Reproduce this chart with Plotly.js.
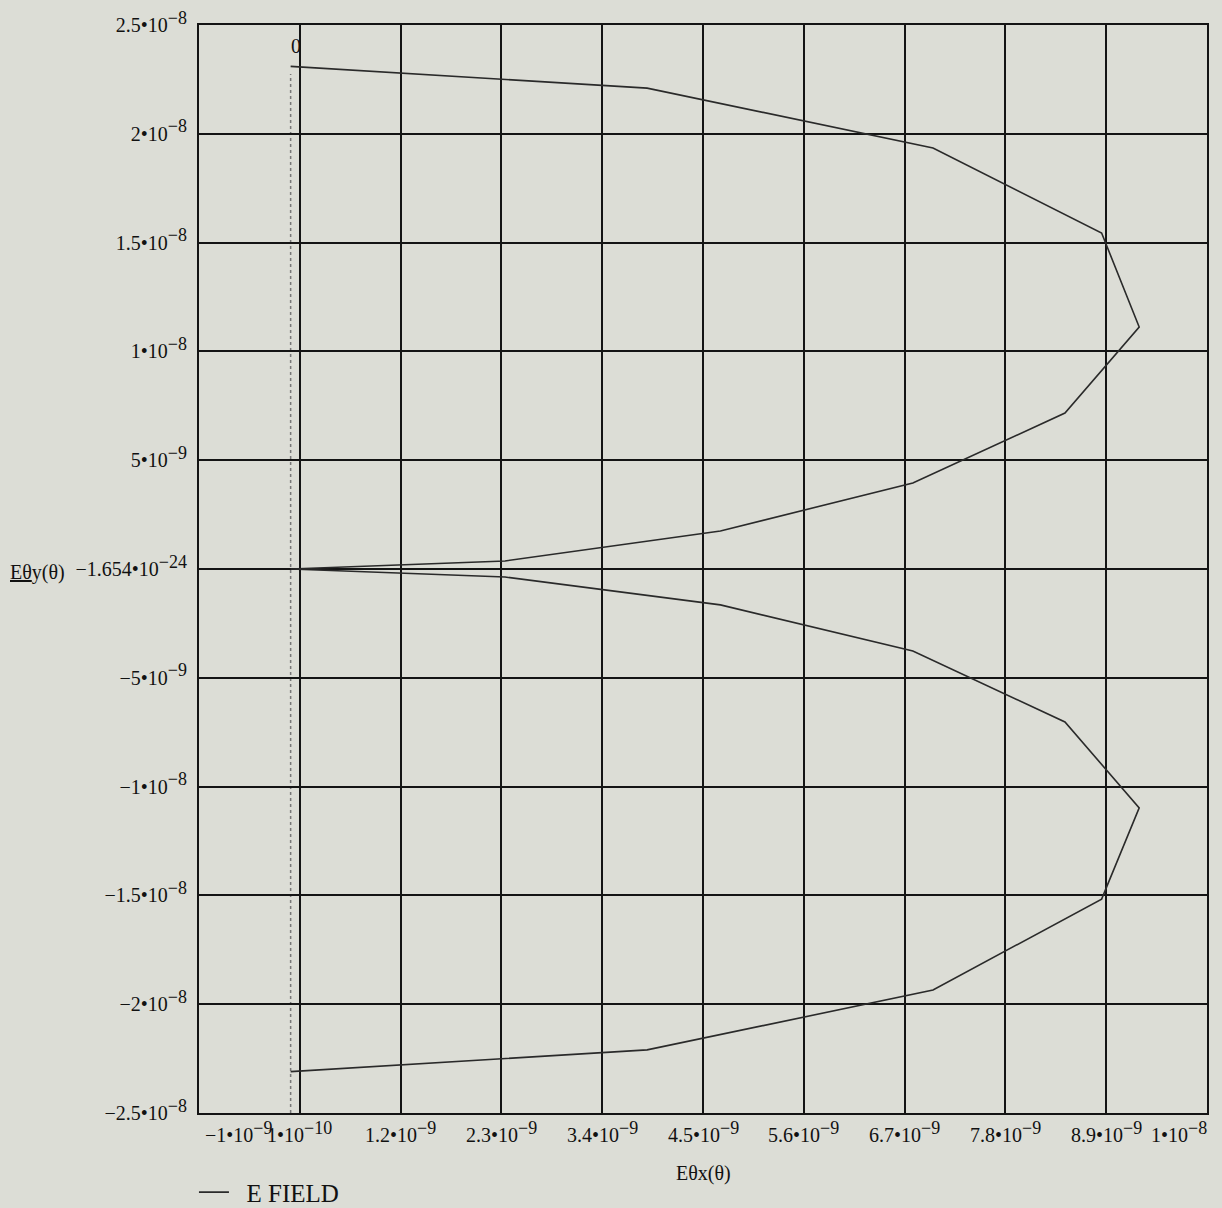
<!DOCTYPE html>
<html>
<head>
<meta charset="utf-8">
<script src="https://cdn.plot.ly/plotly-3.0.1.min.js"></script>
<style>
  html, body { margin: 0; padding: 0; background: #dcddd6; }
  #chart { width: 1222px; height: 1208px; }
</style>
</head>
<body>
<div id="chart"></div>
<script>
// E field pattern: x = Eθx(θ), y = Eθy(θ)
const exValues = [0, 3.89e-9, 7.01e-9, 8.85e-9, 9.26e-9, 8.45e-9, 6.79e-9, 4.69e-9, 2.34e-9, 0,
                  2.34e-9, 4.69e-9, 6.79e-9, 8.45e-9, 9.26e-9, 8.85e-9, 7.01e-9, 3.89e-9, 0];
const eyValues = [2.31e-8, 2.21e-8, 1.935e-8, 1.544e-8, 1.112e-8, 7.17e-9, 3.95e-9, 1.75e-9, 3.7e-10, 0,
                  -3.7e-10, -1.65e-9, -3.77e-9, -7.03e-9, -1.098e-8, -1.517e-8, -1.935e-8, -2.21e-8, -2.31e-8];
const seriesName = "E FIELD";

// Axis ticks (Mathcad style labels)
const xTickVals = [-1e-9, 1e-10, 1.2e-9, 2.3e-9, 3.4e-9, 4.5e-9, 5.6e-9, 6.7e-9, 7.8e-9, 8.9e-9, 1e-8];
const xTickMant = ["−1", "1", "1.2", "2.3", "3.4", "4.5", "5.6", "6.7", "7.8", "8.9", "1"];
const xTickExp  = ["−9", "−10", "−9", "−9", "−9", "−9", "−9", "−9", "−9", "−9", "−8"];
const yTickVals = [2.5e-8, 2e-8, 1.5e-8, 1e-8, 5e-9, 0, -5e-9, -1e-8, -1.5e-8, -2e-8, -2.5e-8];
const yTickMant = ["2.5", "2", "1.5", "1", "5", "−1.654", "−5", "−1", "−1.5", "−2", "−2.5"];
const yTickExp  = ["−8", "−8", "−8", "−8", "−9", "−24", "−9", "−8", "−8", "−8", "−8"];
const xRange = [-1e-9, 1e-8];
const yRange = [-2.5e-8, 2.5e-8];
const zeroMarker = 0;

const FONT = "'Liberation Serif', 'Times New Roman', serif";
const BG = "#dcddd6";

function sci(m, e) {
  return m + "•10<sup><span style=\"font-size:18px\">" + e + "</span></sup>";
}

const yTickText = yTickVals.map((v, i) => sci(yTickMant[i], yTickExp[i]));

const annotations = [];
xTickVals.forEach((v, i) => {
  let anchor = "center", shift = 0;
  if (i === 0) { anchor = "left"; shift = 4; }
  if (i === xTickVals.length - 1) { anchor = "right"; shift = 2; }
  annotations.push({
    x: v, xref: "x", y: 0, yref: "paper",
    xanchor: anchor, yanchor: "top", xshift: shift, yshift: -3,
    text: sci(xTickMant[i], xTickExp[i]), showarrow: false,
    font: { family: FONT, size: 20, color: "#111" }
  });
});
// axis titles
annotations.push({
  x: 0.5, xref: "paper", y: 0, yref: "paper", xanchor: "center", yanchor: "top", yshift: -47,
  text: "Eθx(θ)", showarrow: false, font: { family: FONT, size: 20, color: "#111" }
});
annotations.push({
  x: -0.1895, xref: "paper", y: 0.5, yref: "paper", xanchor: "left", yanchor: "middle", yshift: -3,
  text: "<u>Eθ</u>y(θ)", showarrow: false, font: { family: FONT, size: 20, color: "#111" }
});
// zero marker label
annotations.push({
  x: zeroMarker, xref: "x", y: 1, yref: "paper", xanchor: "left", yanchor: "top", xshift: -2, yshift: -8,
  text: "0", showarrow: false, font: { family: FONT, size: 20, color: "#111" }
});

const trace = {
  x: exValues, y: eyValues, type: "scatter", mode: "lines", name: "\u2002" + seriesName,
  line: { color: "#2a2a2a", width: 1.6 }, showlegend: true
};

const layout = {
  width: 1222, height: 1208,
  margin: { l: 199, r: 15, t: 25, b: 95, autoexpand: false },
  paper_bgcolor: BG, plot_bgcolor: BG,
  font: { family: FONT, size: 20, color: "#111" },
  xaxis: {
    range: xRange, tickmode: "array", tickvals: xTickVals, showticklabels: false,
    showgrid: true, gridcolor: "#141414", gridwidth: 2,
    showline: true, mirror: true, linecolor: "#141414", linewidth: 2,
    zeroline: false, ticks: ""
  },
  yaxis: {
    range: yRange, tickmode: "array", tickvals: yTickVals, ticktext: yTickText,
    showgrid: true, gridcolor: "#141414", gridwidth: 2,
    showline: true, mirror: true, linecolor: "#141414", linewidth: 2,
    zeroline: false, ticks: "", ticklabelstandoff: 6,
    tickfont: { family: FONT, size: 20, color: "#111" }
  },
  shapes: [{
    type: "line", xref: "x", yref: "paper", x0: zeroMarker, x1: zeroMarker, y0: 0, y1: 0.955,
    line: { color: "#777", width: 1.5, dash: "dot" }, layer: "below"
  }],
  showlegend: true,
  legend: {
    x: -0.005, xanchor: "left", y: -0.073, yanchor: "middle", orientation: "h",
    bgcolor: "rgba(0,0,0,0)", font: { family: FONT, size: 25, color: "#111" },
    itemwidth: 30
  },
  annotations: annotations
};

Plotly.newPlot("chart", [trace], layout, { displayModeBar: false, staticPlot: true });
</script>
</body>
</html>
